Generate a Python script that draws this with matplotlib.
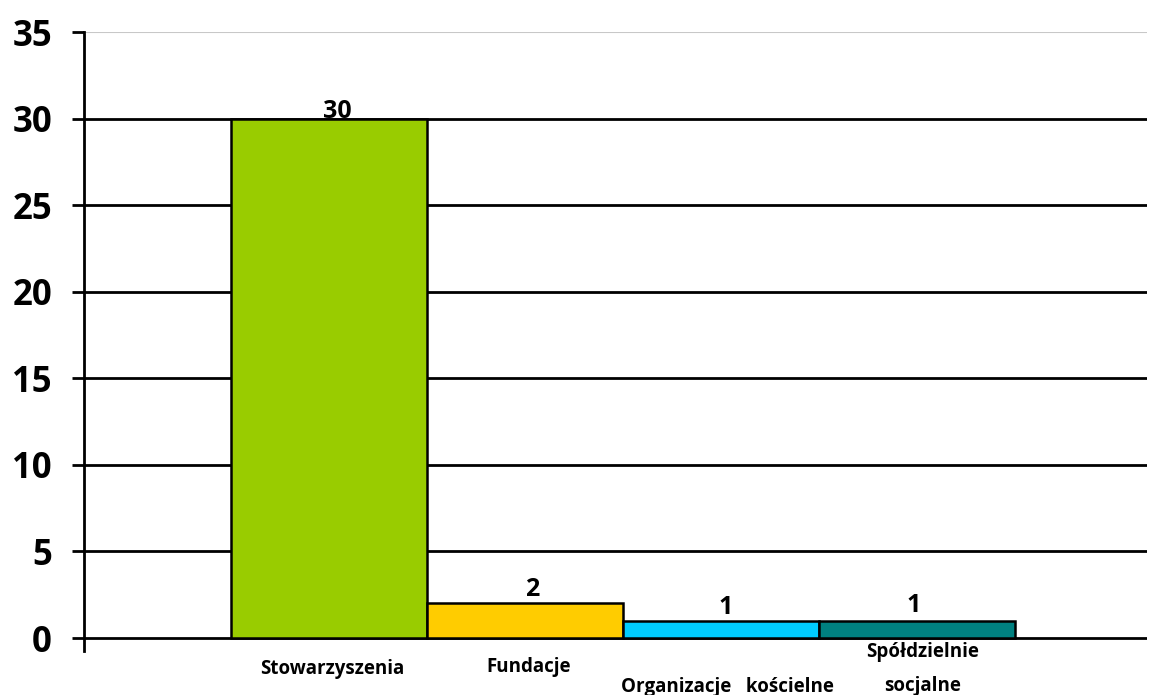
import matplotlib
matplotlib.use("Agg")
import matplotlib.pyplot as plt

categories = ["Stowarzyszenia", "Fundacje", "Organizacje   kościelne", "Spółdzielnie\nsocjalne"]
values = [30, 2, 1, 1]
colors = ["#99CC00", "#FFCC00", "#00CCFF", "#008080"]
yticks = [0, 5, 10, 15, 20, 25, 30, 35]

plt.rcParams['font.family'] = ['Open Sans', 'DejaVu Sans']
plt.rcParams['font.weight'] = 'bold'

fig = plt.figure(figsize=(11.51, 6.95), dpi=100)
ax = fig.add_axes([84/1151, 1-651/695, (1147-84)/1151, (651-32)/695])

x = list(range(len(values)))
ax.bar(x, values, width=1.0, color=colors, edgecolor='black', linewidth=1.8, zorder=3)

for t in yticks:
    if t == 35:
        ax.axhline(t, color='#c8c8c8', lw=1.5, zorder=1)
    else:
        ax.axhline(t, color='black', lw=2, zorder=2)

# value labels, the big one sits lower on its bar as in the original
val_dx = [0.04, 0.035, 0.025, -0.015]
val_off = [0.39, 0.83, 0.79, 0.85]
for xi, v, dx, off in zip(x, values, val_dx, val_off):
    ax.text(xi + dx, v + off, str(v), ha='center', va='center', fontsize=18,
            fontweight='bold', zorder=4)

# category labels placed like the original (manually offset)
label_dx = [0.015, 0.02, 0.033, 0.026]
label_y = [-1.79, -1.68, -2.83, -1.79]
for xi, lab, dx, ly in zip(x, categories, label_dx, label_y):
    ax.text(xi + dx, ly, lab, ha='center', va='center', fontsize=13.5, fontweight='bold',
            clip_on=False, linespacing=1.95)

ax.set_xlim(-1.25, 4.173)
ax.set_ylim(-0.75, 35)
ax.set_yticks(yticks)
ax.set_xticks([])
ax.tick_params(axis='y', length=9, width=2, pad=14, labelsize=25)
for lab in ax.get_yticklabels():
    lab.set_fontweight('bold')
for s in ['top', 'right', 'bottom']:
    ax.spines[s].set_visible(False)
ax.spines['left'].set_linewidth(2)

fig.savefig("out.png", dpi=100)
